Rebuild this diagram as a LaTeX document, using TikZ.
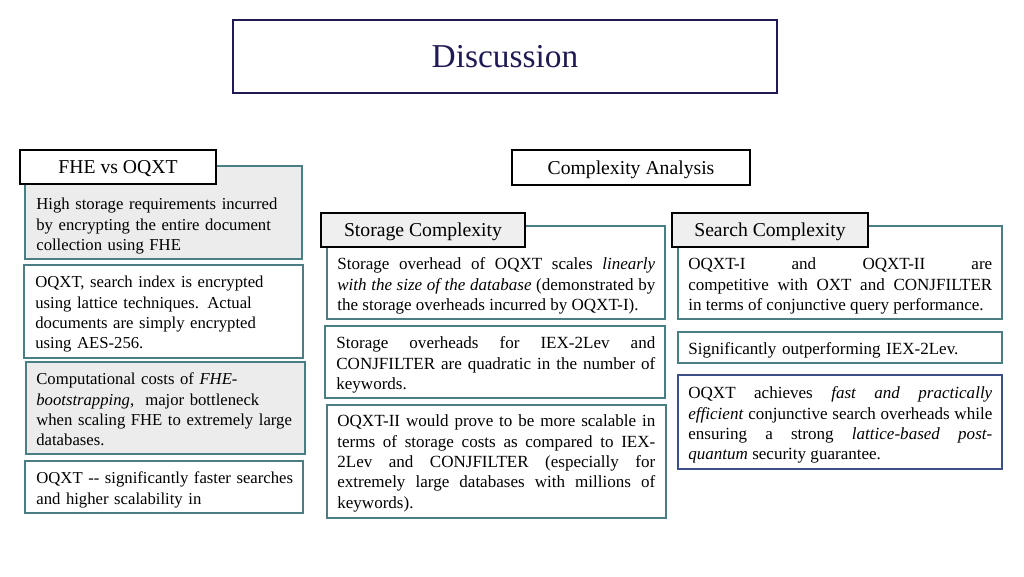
\documentclass[tikz,border=0pt]{standalone}
\usepackage{fontspec}
\setmainfont{Liberation Serif}
\usetikzlibrary{fit,positioning}
\definecolor{panelline}{HTML}{4A7D84}
\definecolor{panelfill}{HTML}{ECECEC}
\definecolor{headfill}{HTML}{EFEFEF}
\definecolor{titlenavy}{HTML}{1F1B52}
\definecolor{boxnavy}{HTML}{3B4F86}
\tolerance=9999
\hbadness=10000

\begin{document}
\begin{tikzpicture}[
                    x=0.02cm,
                    y=-0.02cm,
                    panel/.style={
                        rectangle,
                        draw=panelline,
                        line width=0.7pt,
                        inner sep=0pt
                    },
                    header/.style={
                        rectangle,
                        draw=black,
                        line width=1.1pt,
                        fill=white,
                        inner sep=0pt,
                        text height=8.6pt,
                        text depth=1.2pt,
                        minimum height=0.68cm,
                        font=\fontsize{11.2}{13}\selectfont
                    },
                    body/.style={
                        inner sep=0pt,
                        anchor=north west,
                        align=left,
                        font=\fontsize{9.7}{11.6}\selectfont
                    },
                    side/.style={
                        body,
                        text width=5.3cm,
                        font=\fontsize{9.5}{11.6}\selectfont
                    },
                    just/.style={
                        body,
                        align=justify
                    }
                ]
                \useasboundingbox (0,0) rectangle (1024,576);
                \newcommand{\mkpanel}[6]{
                    \node (#1) [panel,#6,fit={(#2,#3) (#4,#5)}] {};
                }
                \node (title) [header,draw=titlenavy,text=titlenavy,
                    font=\fontsize{19}{22}\selectfont,
                    text height=14pt,text depth=1.4pt,
                    minimum width=10.88cm,minimum height=1.46cm] at (505,56.5) {Discussion};

                \mkpanel{fhe1}{25}{166}{302}{259}{fill=panelfill}
                \mkpanel{fhe2}{24}{265}{303}{358}{fill=white}
                \mkpanel{fhe3}{26}{362}{305}{454}{fill=panelfill}
                \mkpanel{fhe4}{25}{461}{303}{513}{fill=white}

                \mkpanel{sto1}{327}{226}{665}{319}{}
                \mkpanel{sto2}{325}{326}{665}{398}{}
                \mkpanel{sto3}{327}{405}{666}{518}{}

                \mkpanel{sea1}{678}{226}{1002}{319}{}
                \mkpanel{sea2}{678}{332}{1002}{363}{}
                \mkpanel{sea3}{678}{375}{1002}{469}{draw=boxnavy}

                \node (fhehead) [header,minimum width=3.92cm] at (118,167) {FHE vs OQXT};
                \node (cplxhead) [header,minimum width=4.76cm,minimum height=0.7cm] at (631,167.5) {Complexity Analysis};
                \node (stohead) [header,fill=headfill,minimum width=4.08cm] at (423,230) {Storage Complexity};
                \node (seahead) [header,fill=headfill,minimum width=3.92cm] at (770,230) {Search Complexity};

                \node (fhe1txt) [side] at (36,195) {\strut High storage requirements incurred\\
                    by encrypting the entire document\\ collection using FHE};
                \node (fhe2txt) [side] at (35,273) {\strut OQXT, search index is encrypted\\
                    using lattice techniques. Actual\\ documents are simply encrypted\\ using AES-256.};
                \node (fhe3txt) [side] at (36,370) {\strut Computational costs of \textit{FHE-}\\
                    \textit{bootstrapping}, \ major bottleneck\\ when scaling FHE to extremely large\\ databases.};
                \node (fhe4txt) [side] at (36,469) {\strut OQXT -{}- significantly faster searches\\
                    and higher scalability in};

                \node (sto1txt) [just,text width=6.36cm] at (337,255) {\strut Storage overhead of OQXT scales \textit{linearly}\linebreak
                    \textit{with the size of the database} (demonstrated by\linebreak the storage overheads incurred by OQXT-I).};
                \node (sto2txt) [just,text width=6.38cm] at (336,334) {\strut Storage overheads for IEX-2Lev and\linebreak
                    CONJFILTER are quadratic in the number of\linebreak keywords.};
                \node (sto3txt) [just,text width=6.36cm] at (337,412) {\strut OQXT-II would prove to be more scalable in\linebreak
                    terms of storage costs as compared to IEX-\linebreak 2Lev and CONJFILTER (especially for\linebreak
                    extremely large databases with millions of\linebreak keywords).};

                \node (sea1txt) [just,text width=6.08cm] at (688,255) {\strut OQXT-I and OQXT-II are\linebreak
                    competitive with OXT and CONJFILTER\linebreak in terms of conjunctive query performance.};
                \node (sea2txt) [body,text width=6.08cm] at (688,340) {\strut Significantly outperforming IEX-2Lev.};
                \node (sea3txt) [just,text width=6.08cm] at (688,384) {\strut OQXT achieves \textit{fast and practically}\linebreak
                    \textit{efficient} conjunctive search overheads while\linebreak ensuring a strong \textit{lattice-based post-}\linebreak
                    \textit{quantum} security guarantee.};
            \end{tikzpicture}
\end{document}
